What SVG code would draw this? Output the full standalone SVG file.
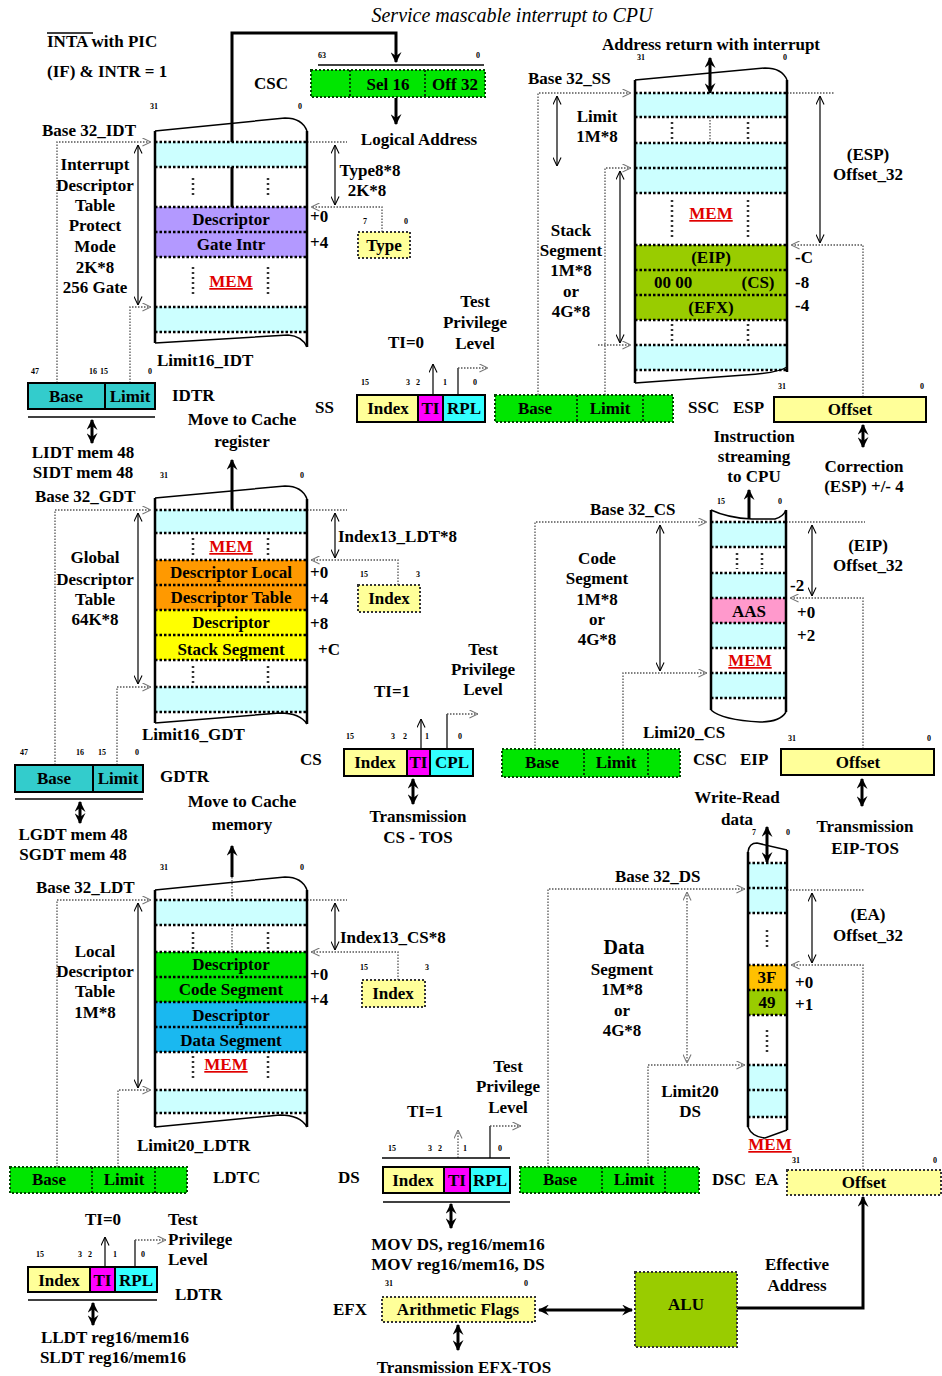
<svg xmlns="http://www.w3.org/2000/svg" width="942" height="1376" viewBox="0 0 942 1376">
<defs>
<style>
text{font-family:"Liberation Serif","Times New Roman",serif;font-weight:bold;font-size:17px;fill:#000}
.m{text-anchor:middle}
.b{font-size:8px}
.mem{fill:#e00000;text-decoration:underline}
.d{fill:none;stroke:#555;stroke-width:1.3;stroke-dasharray:1.5 1.5}
.rl{fill:none;stroke:#000;stroke-width:2.5;stroke-dasharray:2.5 2}
.vd{fill:none;stroke:#333;stroke-width:2.5;stroke-dasharray:2 3}
.e{fill:none;stroke:#000;stroke-width:2.5}
.o{fill:none;stroke:#000;stroke-width:1.5}
.th{fill:none;stroke:#000;stroke-width:1.2}
.tk{fill:none;stroke:#000;stroke-width:3}
.cy{fill:#ccffff}
.gb{fill:#00e600;stroke:#004400;stroke-width:2;stroke-dasharray:2 2}
.yb{fill:#ffff99;stroke:#333;stroke-width:2;stroke-dasharray:2 2}
.gd{fill:none;stroke:#004400;stroke-width:2;stroke-dasharray:2 2}
.bx{fill:none;stroke:#000;stroke-width:2}
.teal{fill:#33cccc;stroke:#000;stroke-width:2}
.ly{fill:#ffff99;stroke:#000;stroke-width:2}
</style>
<marker id="ah" viewBox="0 0 10 10" refX="9.5" refY="5" markerWidth="9" markerHeight="9" markerUnits="userSpaceOnUse" orient="auto-start-reverse"><path d="M0,0.5 L9.5,5 L0,9.5" fill="none" stroke="#000" stroke-width="1.2"/></marker>
<marker id="da" viewBox="0 0 10 10" refX="9.5" refY="5" markerWidth="9" markerHeight="9" markerUnits="userSpaceOnUse" orient="auto-start-reverse"><path d="M0,0.5 L9.5,5 L0,9.5" fill="none" stroke="#777" stroke-width="1.2"/></marker>
<marker id="fh" viewBox="0 0 10 10" refX="9" refY="5" markerWidth="11" markerHeight="11" markerUnits="userSpaceOnUse" orient="auto-start-reverse"><path d="M0,0 L10,5 L0,10 L3.5,5 z" fill="#000"/></marker>
</defs>
<rect width="942" height="1376" fill="#fff"/>

<g id="titles">
<text x="512" y="22" class="m" style="font-style:italic;font-weight:normal;font-size:20px">Service mascable interrupt to CPU</text>
<text x="47" y="47">INTA with PIC</text>
<line x1="47" y1="33" x2="93" y2="33" stroke="#000" stroke-width="1.3"/>
<text x="47" y="77">(IF) &amp; INTR = 1</text>
</g>

<g id="connectors">
<path class="tk" d="M232,207 L232,33 L396,33 L396,62" marker-end="url(#fh)"/>
<path class="tk" d="M396,98 L396,124" marker-end="url(#fh)"/>
<path class="d" d="M57,383 L57,142 L151,142" marker-end="url(#da)"/>
<path class="th" d="M138,145 L138,305" marker-start="url(#ah)" marker-end="url(#ah)"/>
<path class="d" d="M130,383 L130,307 L151,307" marker-end="url(#da)"/>
<path class="d" d="M307,142 L347,142"/>
<path class="th" d="M335,145 L335,205" marker-start="url(#ah)" marker-end="url(#ah)"/>
<path class="d" d="M382,232 L382,207 L311,207" marker-end="url(#da)"/>
<path class="tk" d="M92,420 L92,443" marker-start="url(#fh)" marker-end="url(#fh)"/>
<path class="tk" d="M232,513 L232,460" marker-end="url(#fh)"/>
<path class="d" d="M55,765 L55,510 L151,510" marker-end="url(#da)"/>
<path class="th" d="M138,513 L138,684" marker-start="url(#ah)" marker-end="url(#ah)"/>
<path class="d" d="M117,765 L117,687 L151,687" marker-end="url(#da)"/>
<path class="d" d="M307,510 L347,510"/>
<path class="th" d="M335,513 L335,558" marker-start="url(#ah)" marker-end="url(#ah)"/>
<path class="d" d="M398,585 L398,560 L311,560" marker-end="url(#da)"/>
<path class="tk" d="M80,802 L80,823" marker-start="url(#fh)" marker-end="url(#fh)"/>
<path class="tk" d="M232,877 L232,846" marker-end="url(#fh)"/>
<path class="d" d="M57,1167 L57,900 L151,900" marker-end="url(#da)"/>
<path class="th" d="M138,903 L138,1088" marker-start="url(#ah)" marker-end="url(#ah)"/>
<path class="d" d="M118,1167 L118,1090 L151,1090" marker-end="url(#da)"/>
<path class="d" d="M307,900 L347,900"/>
<path class="th" d="M335,903 L335,950" marker-start="url(#ah)" marker-end="url(#ah)"/>
<path class="d" d="M398,980 L398,952 L311,952" marker-end="url(#da)"/>
<path class="d" d="M232,877 L232,952"/>
<path class="th" d="M105,1267 L105,1237" marker-end="url(#ah)"/>
<path class="th" d="M135,1267 L135,1240"/>
<path class="d" d="M135,1240 L166,1240" marker-end="url(#da)"/>
<path class="tk" d="M93,1303 L93,1325" marker-start="url(#fh)" marker-end="url(#fh)"/>
<path class="th" d="M433,395 L433,364" marker-end="url(#ah)"/>
<path class="th" d="M458,395 L458,368"/>
<path class="d" d="M458,368 L488,368" marker-end="url(#da)"/>
<path class="d" d="M538,395 L538,93 L631,93" marker-end="url(#da)"/>
<path class="th" d="M557,96 L557,166" marker-start="url(#ah)" marker-end="url(#ah)"/>
<path class="d" d="M605,395 L605,168 L631,168" marker-end="url(#da)"/>
<path class="th" d="M620,171 L620,343" marker-start="url(#ah)" marker-end="url(#ah)"/>
<path class="d" d="M598,345 L631,345" marker-end="url(#da)"/>
<path class="d" d="M787,93 L835,93"/>
<path class="th" d="M820,96 L820,243" marker-start="url(#ah)" marker-end="url(#ah)"/>
<path class="d" d="M863,397 L863,245 L791,245" marker-end="url(#da)"/>
<path class="tk" d="M710,58 L710,93" marker-start="url(#fh)" marker-end="url(#fh)"/>
<path class="tk" d="M863,425 L863,447" marker-start="url(#fh)" marker-end="url(#fh)"/>
<path class="tk" d="M749,519 L749,490" marker-end="url(#fh)"/>
<path class="d" d="M535,749 L535,522 L707,522" marker-end="url(#da)"/>
<path class="th" d="M660,525 L660,671" marker-start="url(#ah)" marker-end="url(#ah)"/>
<path class="d" d="M623,749 L623,673 L707,673" marker-end="url(#da)"/>
<path class="d" d="M786,522 L865,522"/>
<path class="th" d="M812,525 L812,596" marker-start="url(#ah)" marker-end="url(#ah)"/>
<path class="d" d="M863,749 L863,598 L790,598" marker-end="url(#da)"/>
<path class="th" d="M421,749 L421,719" marker-end="url(#ah)"/>
<path class="th" d="M447,749 L447,714"/>
<path class="d" d="M447,714 L478,714" marker-end="url(#da)"/>
<path class="tk" d="M413,779 L413,804" marker-start="url(#fh)" marker-end="url(#fh)"/>
<path class="tk" d="M862,779 L862,806" marker-start="url(#fh)" marker-end="url(#fh)"/>
<path class="tk" d="M767,827 L767,862" marker-start="url(#fh)" marker-end="url(#fh)"/>
<path class="d" d="M548,1167 L548,889 L745,889" marker-end="url(#da)"/>
<path class="d" d="M687,892 L687,1063" marker-start="url(#da)" marker-end="url(#da)"/>
<path class="d" d="M648,1167 L648,1065 L745,1065" marker-end="url(#da)"/>
<path class="d" d="M787,890 L865,890"/>
<path class="th" d="M812,893 L812,963" marker-start="url(#ah)" marker-end="url(#ah)"/>
<path class="d" d="M863,1170 L863,965 L791,965" marker-end="url(#da)"/>
<path class="d" d="M458,1158 L458,1130" marker-end="url(#da)"/>
<path class="th" d="M490,1158 L490,1126"/>
<path class="d" d="M490,1126 L521,1126" marker-end="url(#da)"/>
<path class="tk" d="M451,1204 L451,1228" marker-start="url(#fh)" marker-end="url(#fh)"/>
<path class="tk" d="M539,1310 L632,1310" marker-start="url(#fh)" marker-end="url(#fh)"/>
<path class="tk" d="M458,1325 L458,1350" marker-start="url(#fh)" marker-end="url(#fh)"/>
<path class="tk" d="M737,1308 L863,1308 L863,1197" marker-end="url(#fh)"/>
</g>

<g id="csc">
<text x="254" y="89">CSC</text>
<text x="318" y="58" class="b">63</text><text x="476" y="58" class="b">0</text>
<line x1="318" y1="65" x2="484" y2="65" stroke="#000" stroke-width="1.3"/>
<rect x="311" y="70" width="174" height="27" class="gb"/>
<path class="gd" d="M350,70V97 M425,70V97"/>
<text x="388" y="90" class="m">Sel 16</text>
<text x="455" y="90" class="m">Off 32</text>
<text x="419" y="145" class="m">Logical Address</text>
</g>

<g id="idt">
<text x="150" y="109" class="b">31</text><text x="298" y="109" class="b">0</text>
<rect x="155" y="142" width="152" height="25" class="cy"/>
<rect x="155" y="207" width="152" height="50" fill="#b399ff"/>
<rect x="155" y="307" width="152" height="25" class="cy"/>
<path class="rl" d="M155,142H307M155,167H307M155,207H307M155,232H307M155,257H307M155,307H307M155,332H307"/>
<path class="vd" d="M193,178V197M268,178V197M193,267V297M268,267V297"/>
<path class="e" d="M155,131V343M307,131V347"/>
<path class="o" d="M155,131 L285,118 Q302,118 307,131M155,343 L288,335 Q302,336 307,347"/>
<text x="231" y="225" class="m">Descriptor</text>
<text x="231" y="250" class="m">Gate Intr</text>
<text x="231" y="287" class="m mem">MEM</text>
<text x="42" y="136">Base 32_IDT</text>
<text x="95" y="170" class="m">Interrupt</text>
<text x="95" y="191" class="m">Descriptor</text>
<text x="95" y="211" class="m">Table</text>
<text x="95" y="231" class="m">Protect</text>
<text x="95" y="252" class="m">Mode</text>
<text x="95" y="273" class="m">2K*8</text>
<text x="95" y="293" class="m">256 Gate</text>
<text x="310" y="222">+0</text>
<text x="310" y="248">+4</text>
<text x="370" y="176" class="m">Type8*8</text>
<text x="367" y="196" class="m">2K*8</text>
<text x="157" y="366">Limit16_IDT</text>
</g>

<g id="type">
<text x="363" y="224" class="b">7</text><text x="404" y="224" class="b">0</text>
<rect x="358" y="232" width="52" height="26" class="yb"/>
<text x="384" y="251" class="m">Type</text>
</g>

<g id="idtr">
<text x="35" y="374" class="b m">47</text><text x="93" y="374" class="b m">16</text><text x="104" y="374" class="b m">15</text><text x="150" y="374" class="b m">0</text>
<rect x="28" y="383" width="127" height="26" class="teal"/>
<line x1="105" y1="383" x2="105" y2="409" stroke="#000" stroke-width="2"/>
<text x="66" y="402" class="m">Base</text>
<text x="130" y="402" class="m">Limit</text>
<text x="172" y="401">IDTR</text>
<line x1="28" y1="417" x2="155" y2="417" stroke="#000" stroke-width="1.5"/>
<text x="83" y="458" class="m">LIDT mem 48</text>
<text x="83" y="478" class="m">SIDT mem 48</text>
<text x="242" y="425" class="m">Move to Cache</text>
<text x="242" y="447" class="m">register</text>
</g>

<g id="gdt">
<text x="160" y="478" class="b">31</text><text x="300" y="478" class="b">0</text>
<rect x="155" y="510" width="152" height="23" class="cy"/>
<rect x="155" y="560" width="152" height="50" fill="#ff9900"/>
<rect x="155" y="610" width="152" height="50" fill="#ffff00"/>
<rect x="155" y="687" width="152" height="25" class="cy"/>
<path class="rl" d="M155,510H307M155,533H307M155,560H307M155,585H307M155,610H307M155,635H307M155,660H307M155,687H307M155,712H307"/>
<path class="vd" d="M193,538V556M268,538V556M193,666V684M268,666V684"/>
<path class="e" d="M155,498V723M307,499V724"/>
<path class="o" d="M155,498 L285,486 Q302,486 307,499M155,723 L280,713 Q300,713 307,724"/>
<text x="231" y="552" class="m mem">MEM</text>
<text x="231" y="578" class="m">Descriptor Local</text>
<text x="231" y="603" class="m">Descriptor Table</text>
<text x="231" y="628" class="m">Descriptor</text>
<text x="231" y="655" class="m">Stack Segment</text>
<text x="35" y="502">Base 32_GDT</text>
<text x="95" y="563" class="m">Global</text>
<text x="95" y="585" class="m">Descriptor</text>
<text x="95" y="605" class="m">Table</text>
<text x="95" y="625" class="m">64K*8</text>
<text x="310" y="578">+0</text>
<text x="310" y="604">+4</text>
<text x="310" y="629">+8</text>
<text x="318" y="655">+C</text>
<text x="338" y="542">Index13_LDT*8</text>
<text x="142" y="740">Limit16_GDT</text>
</g>

<g id="idx-ldt">
<text x="360" y="577" class="b">15</text><text x="416" y="577" class="b">3</text>
<rect x="358" y="585" width="62" height="27" class="yb"/>
<text x="389" y="604" class="m">Index</text>
</g>

<g id="gdtr">
<text x="24" y="755" class="b m">47</text><text x="80" y="755" class="b m">16</text><text x="102" y="755" class="b m">15</text><text x="137" y="755" class="b m">0</text>
<rect x="15" y="765" width="128" height="27" class="teal"/>
<line x1="93" y1="765" x2="93" y2="792" stroke="#000" stroke-width="2"/>
<text x="54" y="784" class="m">Base</text>
<text x="118" y="784" class="m">Limit</text>
<text x="160" y="782">GDTR</text>
<line x1="15" y1="799" x2="143" y2="799" stroke="#000" stroke-width="1.5"/>
<text x="73" y="840" class="m">LGDT mem 48</text>
<text x="73" y="860" class="m">SGDT mem 48</text>
<text x="242" y="807" class="m">Move to Cache</text>
<text x="242" y="830" class="m">memory</text>
</g>

<g id="ldt">
<text x="160" y="870" class="b">31</text><text x="300" y="870" class="b">0</text>
<rect x="155" y="900" width="152" height="25" class="cy"/>
<rect x="155" y="952" width="152" height="50" fill="#00e600"/>
<rect x="155" y="1002" width="152" height="50" fill="#1ab8f0"/>
<rect x="155" y="1090" width="152" height="23" class="cy"/>
<path class="rl" d="M155,900H307M155,925H307M155,952H307M155,977H307M155,1002H307M155,1027H307M155,1052H307M155,1090H307M155,1113H307"/>
<path class="vd" d="M193,932V950M268,932V950M193,1056V1080M268,1056V1080"/>
<path class="e" d="M155,890V1127M307,890V1127"/>
<path class="o" d="M155,890 L285,877 Q302,877 307,890M155,1127 L280,1115 Q300,1115 307,1127"/>
<text x="231" y="970" class="m">Descriptor</text>
<text x="231" y="995" class="m">Code Segment</text>
<text x="231" y="1021" class="m">Descriptor</text>
<text x="231" y="1046" class="m">Data Segment</text>
<text x="226" y="1070" class="m mem">MEM</text>
<text x="36" y="893">Base 32_LDT</text>
<text x="95" y="957" class="m">Local</text>
<text x="95" y="977" class="m">Descriptor</text>
<text x="95" y="997" class="m">Table</text>
<text x="95" y="1018" class="m">1M*8</text>
<text x="310" y="980">+0</text>
<text x="310" y="1005">+4</text>
<text x="340" y="943">Index13_CS*8</text>
<text x="137" y="1151">Limit20_LDTR</text>
</g>

<g id="idx-cs">
<text x="360" y="970" class="b">15</text><text x="425" y="970" class="b">3</text>
<rect x="362" y="980" width="63" height="27" class="yb"/>
<text x="393" y="999" class="m">Index</text>
</g>

<g id="ldtc">
<rect x="10" y="1167" width="177" height="26" class="gb"/>
<path class="gd" d="M92,1167V1193M155,1167V1193"/>
<text x="49" y="1185" class="m">Base</text>
<text x="124" y="1185" class="m">Limit</text>
<text x="213" y="1183">LDTC</text>
</g>

<g id="ldtr">
<text x="103" y="1225" class="m">TI=0</text>
<text x="168" y="1225">Test</text>
<text x="168" y="1245">Privilege</text>
<text x="168" y="1265">Level</text>
<text x="40" y="1257" class="b m">15</text><text x="80" y="1257" class="b m">3</text><text x="90" y="1257" class="b m">2</text><text x="115" y="1257" class="b m">1</text><text x="143" y="1257" class="b m">0</text>
<rect x="28" y="1267" width="62" height="25" fill="#ffff99"/>
<rect x="90" y="1267" width="25" height="25" fill="#ff00ff"/>
<rect x="115" y="1267" width="42" height="25" fill="#33ffff"/>
<path class="bx" d="M28,1267H157V1292H28Z M90,1267V1292 M115,1267V1292"/>
<text x="59" y="1286" class="m">Index</text>
<text x="102.5" y="1286" class="m">TI</text>
<text x="136" y="1286" class="m">RPL</text>
<text x="175" y="1300">LDTR</text>
<line x1="28" y1="1300" x2="157" y2="1300" stroke="#000" stroke-width="1.5"/>
<text x="115" y="1343" class="m">LLDT reg16/mem16</text>
<text x="113" y="1363" class="m">SLDT reg16/mem16</text>
</g>

<g id="ss-sel">
<text x="475" y="307" class="m">Test</text>
<text x="475" y="328" class="m">Privilege</text>
<text x="475" y="349" class="m">Level</text>
<text x="406" y="348" class="m">TI=0</text>
<text x="365" y="385" class="b m">15</text><text x="408" y="385" class="b m">3</text><text x="418" y="385" class="b m">2</text><text x="445" y="385" class="b m">1</text><text x="475" y="385" class="b m">0</text>
<rect x="357" y="395" width="61" height="27" fill="#ffff99"/>
<rect x="418" y="395" width="25" height="27" fill="#ff00ff"/>
<rect x="443" y="395" width="42" height="27" fill="#33ffff"/>
<path class="bx" d="M357,395H485V422H357Z M418,395V422 M443,395V422"/>
<text x="388" y="414" class="m">Index</text>
<text x="430.5" y="414" class="m">TI</text>
<text x="464" y="414" class="m">RPL</text>
<text x="315" y="413">SS</text>
</g>

<g id="ssc">
<rect x="495" y="395" width="178" height="27" class="gb"/>
<path class="gd" d="M577,395V422M643,395V422"/>
<text x="535" y="414" class="m">Base</text>
<text x="610" y="414" class="m">Limit</text>
<text x="688" y="413">SSC</text>
<text x="733" y="413">ESP</text>
</g>

<g id="esp">
<text x="778" y="389" class="b">31</text><text x="920" y="389" class="b">0</text>
<rect x="774" y="397" width="152" height="25" class="ly"/>
<text x="850" y="415" class="m">Offset</text>
<text x="864" y="472" class="m">Correction</text>
<text x="864" y="492" class="m">(ESP) +/- 4</text>
</g>

<g id="stack">
<text x="711" y="50" class="m">Address return with interrupt</text>
<text x="637" y="60" class="b">31</text><text x="783" y="60" class="b">0</text>
<rect x="635" y="93" width="152" height="24" class="cy"/>
<rect x="635" y="143" width="152" height="50" class="cy"/>
<rect x="635" y="245" width="152" height="75" fill="#99cc00"/>
<rect x="635" y="345" width="152" height="25" class="cy"/>
<path class="rl" d="M635,93H787M635,117H787M635,143H787M635,168H787M635,193H787M635,245H787M635,270H787M635,295H787M635,320H787M635,345H787M635,370H787"/>
<path class="vd" d="M672,122V140M748,122V140M672,200V238M748,200V238M672,324V342M748,324V342"/>
<path class="d" d="M710,117V143"/>
<path class="e" d="M635,80V383M787,80V372"/>
<path class="o" d="M635,80 L765,68 Q782,68 787,80M635,383 L745,375 Q778,373 787,367"/>
<text x="711" y="219" class="m mem">MEM</text>
<text x="711" y="263" class="m">(EIP)</text>
<text x="673" y="288" class="m">00 00</text>
<text x="758" y="288" class="m">(CS)</text>
<text x="711" y="313" class="m">(EFX)</text>
<text x="795" y="263">-C</text>
<text x="795" y="288">-8</text>
<text x="795" y="311">-4</text>
<text x="528" y="84">Base 32_SS</text>
<text x="597" y="122" class="m">Limit</text>
<text x="597" y="142" class="m">1M*8</text>
<text x="571" y="236" class="m">Stack</text>
<text x="571" y="256" class="m">Segment</text>
<text x="571" y="276" class="m">1M*8</text>
<text x="571" y="297" class="m">or</text>
<text x="571" y="317" class="m">4G*8</text>
<text x="868" y="160" class="m">(ESP)</text>
<text x="868" y="180" class="m">Offset_32</text>
</g>

<g id="code">
<text x="754" y="442" class="m">Instruction</text>
<text x="754" y="462" class="m">streaming</text>
<text x="754" y="482" class="m">to CPU</text>
<text x="717" y="504" class="b">15</text><text x="778" y="504" class="b">0</text>
<rect x="711" y="522" width="75" height="25" class="cy"/>
<rect x="711" y="573" width="75" height="25" class="cy"/>
<rect x="711" y="598" width="75" height="25" fill="#ff99cc"/>
<rect x="711" y="623" width="75" height="25" class="cy"/>
<rect x="711" y="673" width="75" height="25" class="cy"/>
<path class="rl" d="M711,522H786M711,547H786M711,573H786M711,598H786M711,623H786M711,648H786M711,673H786M711,698H786"/>
<path class="vd" d="M737,553V569M762,553V569"/>
<path class="e" d="M711,510V710M786,510V712"/>
<path class="o" d="M711,510 Q728,518 752,519 L775,519 Q783,517 786,510M711,710 Q722,720 760,722 Q780,722 786,712"/>
<text x="749" y="617" class="m">AAS</text>
<text x="750" y="666" class="m mem">MEM</text>
<text x="790" y="591">-2</text>
<text x="797" y="618">+0</text>
<text x="797" y="641">+2</text>
<text x="590" y="515">Base 32_CS</text>
<text x="597" y="564" class="m">Code</text>
<text x="597" y="584" class="m">Segment</text>
<text x="597" y="605" class="m">1M*8</text>
<text x="597" y="625" class="m">or</text>
<text x="597" y="645" class="m">4G*8</text>
<text x="868" y="551" class="m">(EIP)</text>
<text x="868" y="571" class="m">Offset_32</text>
<text x="643" y="738">Limi20_CS</text>
</g>

<g id="cs-sel">
<text x="483" y="655" class="m">Test</text>
<text x="483" y="675" class="m">Privilege</text>
<text x="483" y="695" class="m">Level</text>
<text x="392" y="697" class="m">TI=1</text>
<text x="350" y="739" class="b m">15</text><text x="393" y="739" class="b m">3</text><text x="405" y="739" class="b m">2</text><text x="427" y="739" class="b m">1</text><text x="460" y="739" class="b m">0</text>
<rect x="344" y="749" width="63" height="27" fill="#ffff99"/>
<rect x="407" y="749" width="23" height="27" fill="#ff00ff"/>
<rect x="430" y="749" width="43" height="27" fill="#33ffff"/>
<path class="bx" d="M344,749H473V776H344Z M407,749V776 M430,749V776"/>
<text x="375" y="768" class="m">Index</text>
<text x="418.5" y="768" class="m">TI</text>
<text x="452" y="768" class="m">CPL</text>
<text x="300" y="765">CS</text>
<text x="418" y="822" class="m">Transmission</text>
<text x="418" y="843" class="m">CS - TOS</text>
</g>

<g id="csc-cache">
<rect x="502" y="749" width="178" height="28" class="gb"/>
<path class="gd" d="M584,749V777M648,749V777"/>
<text x="542" y="768" class="m">Base</text>
<text x="616" y="768" class="m">Limit</text>
<text x="693" y="765">CSC</text>
<text x="740" y="765">EIP</text>
</g>

<g id="eip">
<text x="788" y="741" class="b">31</text><text x="927" y="741" class="b">0</text>
<rect x="781" y="749" width="153" height="26" class="ly"/>
<text x="858" y="768" class="m">Offset</text>
<text x="865" y="832" class="m">Transmission</text>
<text x="865" y="854" class="m">EIP-TOS</text>
</g>

<g id="data">
<text x="737" y="803" class="m">Write-Read</text>
<text x="737" y="825" class="m">data</text>
<text x="752" y="835" class="b">7</text><text x="786" y="835" class="b">0</text>
<rect x="748" y="863" width="39" height="50" class="cy"/>
<rect x="748" y="965" width="39" height="25" fill="#ffc000"/>
<rect x="748" y="990" width="39" height="25" fill="#99cc00"/>
<rect x="748" y="1065" width="39" height="52" class="cy"/>
<path class="rl" d="M748,863H787M748,888H787M748,913H787M748,965H787M748,990H787M748,1015H787M748,1065H787M748,1090H787M748,1117H787"/>
<path class="vd" d="M767,930V950M767,1030V1052"/>
<path class="e" d="M748,852V1127M787,850V1130"/>
<path class="o" d="M748,852 Q749,843 757,843 L787,850M748,1127 Q752,1137 765,1138 L787,1130"/>
<text x="767" y="983" class="m">3F</text>
<text x="767" y="1008" class="m">49</text>
<text x="795" y="988">+0</text>
<text x="795" y="1010">+1</text>
<text x="770" y="1150" class="m mem">MEM</text>
<text x="615" y="882">Base 32_DS</text>
<text x="624" y="954" class="m" style="font-size:20px">Data</text>
<text x="622" y="975" class="m">Segment</text>
<text x="622" y="995" class="m">1M*8</text>
<text x="622" y="1016" class="m">or</text>
<text x="622" y="1036" class="m">4G*8</text>
<text x="690" y="1097" class="m">Limit20</text>
<text x="690" y="1117" class="m">DS</text>
<text x="868" y="920" class="m">(EA)</text>
<text x="868" y="941" class="m">Offset_32</text>
</g>

<g id="ds-sel">
<text x="508" y="1072" class="m">Test</text>
<text x="508" y="1092" class="m">Privilege</text>
<text x="508" y="1113" class="m">Level</text>
<text x="425" y="1117" class="m">TI=1</text>
<text x="392" y="1151" class="b m">15</text><text x="430" y="1151" class="b m">3</text><text x="440" y="1151" class="b m">2</text><text x="465" y="1151" class="b m">1</text><text x="500" y="1151" class="b m">0</text>
<line x1="382" y1="1158" x2="510" y2="1158" stroke="#000" stroke-width="1.5"/>
<rect x="383" y="1167" width="61" height="26" fill="#ffff99"/>
<rect x="444" y="1167" width="26" height="26" fill="#ff00ff"/>
<rect x="470" y="1167" width="40" height="26" fill="#33ffff"/>
<path class="bx" d="M383,1167H510V1193H383Z M444,1167V1193 M470,1167V1193"/>
<text x="413" y="1186" class="m">Index</text>
<text x="457" y="1186" class="m">TI</text>
<text x="490" y="1186" class="m">RPL</text>
<text x="338" y="1183">DS</text>
<line x1="383" y1="1202" x2="510" y2="1202" stroke="#000" stroke-width="1.5"/>
<text x="458" y="1250" class="m">MOV DS, reg16/mem16</text>
<text x="458" y="1270" class="m">MOV reg16/mem16, DS</text>
</g>

<g id="dsc">
<rect x="520" y="1167" width="179" height="26" class="gb"/>
<path class="gd" d="M602,1167V1193M665,1167V1193"/>
<text x="560" y="1185" class="m">Base</text>
<text x="634" y="1185" class="m">Limit</text>
<text x="712" y="1185">DSC</text>
<text x="755" y="1185">EA</text>
</g>

<g id="ea">
<text x="792" y="1163" class="b">31</text><text x="933" y="1163" class="b">0</text>
<rect x="787" y="1170" width="154" height="25" class="yb"/>
<text x="864" y="1188" class="m">Offset</text>
</g>

<g id="efx">
<text x="385" y="1286" class="b">31</text><text x="524" y="1286" class="b">0</text>
<rect x="382" y="1297" width="153" height="25" class="yb"/>
<text x="458" y="1315" class="m">Arithmetic Flags</text>
<text x="333" y="1315">EFX</text>
<text x="464" y="1373" class="m">Transmission EFX-TOS</text>
</g>

<g id="alu">
<rect x="635" y="1272" width="102" height="75" fill="#99cc00" stroke="#333" stroke-width="2" stroke-dasharray="2 2"/>
<text x="686" y="1310" class="m">ALU</text>
<text x="797" y="1270" class="m">Effective</text>
<text x="797" y="1291" class="m">Address</text>
</g>
</svg>
